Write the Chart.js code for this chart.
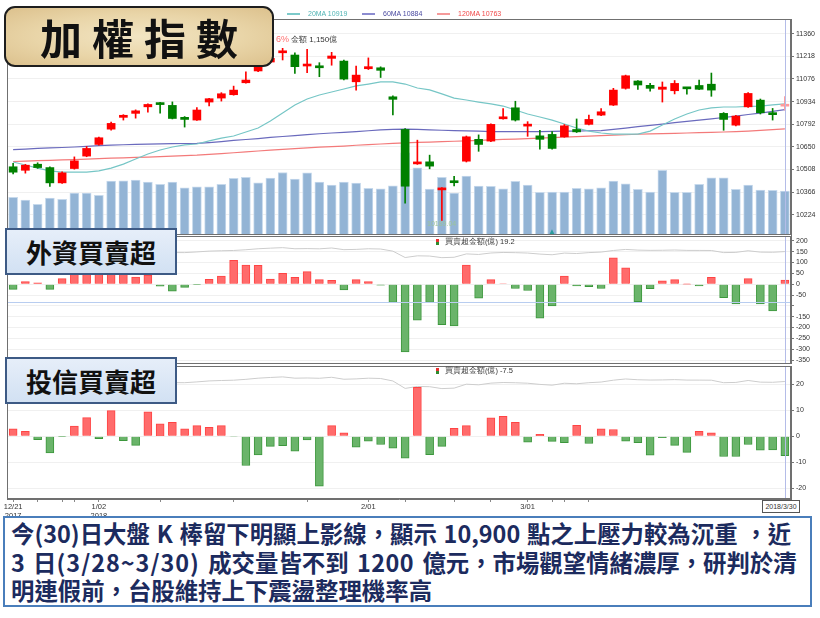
<!DOCTYPE html>
<html>
<head>
<meta charset="utf-8">
<script src="https://cdn.jsdelivr.net/npm/chart.js@4.4.1/dist/chart.umd.min.js"></script>
<style>
body { margin: 0; width: 820px; height: 618px; background: #fff; position: relative; overflow: hidden; font-family: "Liberation Sans", Arial, sans-serif; }
canvas { position: absolute; left: 0; }
.abs { position: absolute; white-space: nowrap; }
.dash { position: absolute; height: 2px; width: 13px; }
.small { font-size: 7px; line-height: 10px; }
#title { position: absolute; left: 4px; top: 6px; width: 270px; height: 61px; box-sizing: border-box; border: 2px solid #1e1e1e; border-radius: 11px;
  background: radial-gradient(ellipse at 50% 50%, #f2e5c3 0%, #e9d5a8 55%, #dcc18d 100%);
  font: 700 42px "Noto Sans CJK TC", sans-serif; letter-spacing: 10px; line-height: 57px; padding-left: 34px; color: #111; }
.tag { position: absolute; left: 5px; width: 172px; height: 47px; box-sizing: border-box; border: 2px solid #3d5a85;
  background: linear-gradient(#e6eef9, #d2e1f3); font: 700 26px "Noto Sans CJK TC", sans-serif; text-align: center; line-height: 44px; color: #111; }
.lgicon { position: absolute; width: 3px; height: 6px; background: linear-gradient(#e83030 50%, #2e8b2e 50%); }
#dateBox { position: absolute; left: 762px; top: 500px; width: 38px; height: 13px; box-sizing: border-box; border: 1px solid #555; background: #fff;
  font-size: 7px; line-height: 11px; text-align: center; color: #333; }
#note { position: absolute; left: 3px; top: 516px; width: 809px; height: 91px; box-sizing: border-box; border: 2px solid #4a7ebb; background: #fff;
  font: 700 23.4px "Noto Sans CJK TC", sans-serif; color: #1c2b5e; line-height: 28.5px; padding: 1px 0 0 6px; white-space: nowrap; }
</style>
</head>
<body>
<canvas id="priceChart" width="820" height="242" style="top:0"></canvas>
<canvas id="foreignChart" width="820" height="140" style="top:230px"></canvas>
<canvas id="trustChart" width="820" height="160" style="top:360px"></canvas>

<!-- top legend -->
<div class="dash" style="left:287px;top:13px;background:#7ccaca"></div>
<div class="abs small" style="left:308px;top:9px;color:#4fb3b3">20MA 10919</div>
<div class="dash" style="left:362px;top:13px;background:#8c8cd0"></div>
<div class="abs small" style="left:383px;top:9px;color:#4a4aa0">60MA 10884</div>
<div class="dash" style="left:437px;top:13px;background:#f59a9a"></div>
<div class="abs small" style="left:458px;top:9px;color:#f04848">120MA 10763</div>
<div class="abs" style="left:276px;top:34px;font-size:9px;color:#ff6f6f">6%</div>
<div class="abs" style="left:291px;top:34px;font-size:8px;color:#333">金額 1,150億</div>
<div class="abs small" style="left:427px;top:219px;color:#9cc39c">10189.04</div>
<div class="abs" style="left:548px;top:227px;font-size:8px;color:#2a9d9d">▲</div>

<div id="title">加權指數</div>
<div class="tag" style="top:228px">外資買賣超</div>
<div class="tag" style="top:357px">投信買賣超</div>

<div class="lgicon" style="left:436px;top:239px"></div>
<div class="abs" style="left:445px;top:237px;font-size:7.5px;color:#333">買賣超金額(億) 19.2</div>
<div class="lgicon" style="left:436px;top:368px"></div>
<div class="abs" style="left:445px;top:366px;font-size:7.5px;color:#333">買賣超金額(億) -7.5</div>

<div id="dateBox">2018/3/30</div>

<div id="note"><span style="word-spacing:1.5px">今(30)日大盤 K 棒留下明顯上影線，顯示 10,900 點之上壓力較為沉重 ，近</span><br><span style="word-spacing:3px">3 日<span style="letter-spacing:1px">(3/28~3/30)</span> 成交量皆不到 <span style="letter-spacing:0.5px">1200</span> 億元，市場觀望情緒濃厚，研判於清</span><br>明連假前，台股維持上下震盪整理機率高</div>

<script>
// trading days 2017/12/21 ~ 2018/3/30
const DATES = ['12/21','12/22','12/25','12/26','12/27','12/28','12/29',
  '1/02','1/03','1/04','1/05','1/08','1/09','1/10','1/11','1/12','1/15','1/16','1/17','1/18','1/19','1/22','1/23','1/24','1/25','1/26','1/29','1/30','1/31',
  '2/01','2/02','2/05','2/06','2/07','2/08','2/09','2/12','2/21','2/22','2/23','2/26','2/27',
  '3/01','3/02','3/05','3/06','3/07','3/08','3/09','3/12','3/13','3/14','3/15','3/16','3/19','3/20','3/21','3/22','3/23','3/26','3/27','3/28','3/29','3/30'];

const OPEN  = [10525,10503,10541,10520,10424,10514,10592,10665,10761,10835,10860,10901,10920,10910,10835,10818,10931,10956,10977,11052,11126,11182,11240,11226,11157,11150,11205,11188,11058,11140,11146,10964,10759,10543,10556,10380,10428,10560,10697,10686,10826,10895,10780,10719,10728,10713,10759,10791,10849,10912,11017,11063,11036,11011,11002,11018,11035,11043,10860,10786,10901,10943,10856,10905];
const HIGH  = [10547,10540,10550,10525,10494,10587,10652,10712,10805,10852,10882,10920,10930,10932,10840,10896,10955,10990,11031,11120,11176,11225,11268,11240,11262,11178,11243,11195,11157,11208,11152,10970,10765,10692,10598,10395,10465,10718,10725,10795,10890,10936,10808,10754,10745,10790,10825,10850,10890,11017,11100,11066,11048,11057,11066,11022,11069,11113,10865,10848,10990,10950,10891,10966];
const LOW   = [10480,10485,10515,10402,10420,10510,10588,10660,10755,10818,10830,10868,10862,10825,10774,10815,10906,10937,10974,11050,11122,11178,11195,11110,11115,11090,11162,11070,11005,11135,11085,10850,10296,10540,10512,10189,10405,10555,10622,10683,10823,10812,10716,10635,10636,10710,10740,10788,10846,10909,11012,11010,11000,10931,10982,10980,11008,10967,10754,10782,10898,10856,10818,10880];
const CLOSE = [10491,10535,10520,10424,10487,10562,10640,10707,10797,10848,10876,10916,10915,10828,10822,10881,10952,10983,11006,11069,11153,11205,11248,11153,11168,11146,11220,11075,11100,11153,11130,10948,10403,10548,10529,10390,10425,10713,10665,10791,10835,10818,10785,10697,10640,10782,10744,10822,10870,11006,11096,11038,11017,11025,11048,11014,11011,11006,10822,10843,10985,10864,10852,10909];

// turnover (億)
const VOLUME = [984,914,801,966,932,1096,1096,1036,1409,1417,1436,1383,1323,1383,1235,1261,1261,1323,1480,1506,1365,1488,1636,1462,1626,1383,1305,1383,1357,1219,1208,1287,2150,1757,1201,1506,1096,1540,1279,1271,1208,1402,1305,1114,1122,1122,1219,1208,1235,1409,1339,1193,1122,1689,1114,1114,1323,1496,1496,1193,1305,1175,1167,1150];

const MA20 = [10555,10536,10517,10499,10492,10492,10492,10499,10517,10542,10574,10605,10630,10649,10662,10668,10687,10705,10718,10743,10768,10812,10862,10913,10950,10975,10994,11013,11032,11044,11057,11057,11044,11019,11007,10982,10956,10944,10931,10919,10906,10881,10856,10837,10818,10793,10768,10749,10737,10730,10730,10730,10749,10787,10825,10856,10881,10894,10900,10900,10904,10906,10913,10919];
const MA60 = [10632,10636,10640,10643,10646,10649,10653,10658,10661,10663,10665,10667,10669,10670,10671,10672,10677,10683,10690,10696,10702,10709,10715,10721,10727,10732,10737,10741,10746,10751,10756,10759,10761,10759,10756,10754,10752,10750,10748,10746,10746,10745,10745,10746,10747,10748,10749,10751,10752,10760,10768,10777,10785,10793,10802,10810,10818,10826,10834,10843,10853,10862,10872,10884];
const MA120 = [10558,10560,10563,10565,10568,10570,10573,10576,10579,10581,10584,10586,10589,10592,10595,10598,10603,10608,10613,10618,10624,10629,10634,10639,10643,10648,10651,10655,10660,10664,10668,10672,10675,10678,10680,10683,10685,10688,10691,10694,10697,10699,10702,10705,10708,10711,10714,10717,10720,10723,10726,10729,10731,10733,10735,10737,10739,10741,10743,10746,10749,10753,10758,10763];

// 外資買賣超 (億)
const FOREIGN = [-24,12,6,-24,26,50,65,80,60,45,33,42,-9,-32,-15,-2,23,37,110,88,87,24,50,32,58,21,18,-27,21,12,-5,-84,-312,-166,-84,-187,-192,88,-65,21,2,-20,-29,-157,-100,37,-8,-12,-20,122,76,-81,-21,15,21,0.5,-8,32,-62,-91,26,-91,-123,19.2];
// 投信買賣超 (億)
const TRUST = [2.9,1.9,-1.3,-6.4,-0.1,3.9,7.2,-0.9,9.9,-1.7,-3.5,9.4,4.8,5.4,2.9,4.1,3.4,4.1,-0.2,-11.3,-7.2,-3.9,-3.6,-5.8,-1.4,-19.3,4.1,1.3,-4.2,-1.9,-3.2,-4.6,-8.5,18.9,-7.1,-3.9,3.0,4.1,0,7.1,7.7,5.4,-2.3,0.7,-2.0,-2.5,4.2,-2.8,2.9,2.6,-1.9,-2.5,-7.3,-0.6,-3.5,-6.2,1.9,1.3,-7.8,-7.8,-3.2,-5.4,-5.3,-7.5];

const PRICE_TICKS = [11360,11218,11076,10934,10792,10650,10508,10366,10224];
const FOREIGN_TICKS = [200,150,100,50,0,-50,-100,-150,-200,-250,-300,-350];
const TRUST_TICKS = [20,10,0,-10,-20];
const X_TICK_LABELS = { '12/21': ['12/21','2017'], '1/02': ['1/02','2018'], '2/01': '2/01', '3/01': '3/01' };
const X_TICK_MARKS = [0,2,4,5,7,12,18,24,29,32,36,39,42,44,45,47];

const RED = '#ff0000', GREEN = '#008000', LAST = '#ff9a9a';
Chart.defaults.font.family = '"Liberation Sans", Arial, sans-serif';
Chart.defaults.animation = false;

const candleColors = CLOSE.map((c, i) => i === CLOSE.length - 1 ? LAST : (c >= OPEN[i] ? RED : GREEN));
const barFill = arr => arr.map(v => v >= 0 ? '#ff6b6b' : '#6ab46a');
const barLine = arr => arr.map(v => v >= 0 ? '#ff4343' : '#3c973c');

function rightAxis(min, max, ticks, hidden) {
  return {
    position: 'right', min: min, max: max,
    afterFit: s => { s.width = 29; },
    afterBuildTicks: s => { s.ticks = ticks.map(v => ({ value: v })); },
    border: { color: '#707070' },
    grid: { color: '#f0f0f0', tickColor: '#777', tickLength: 3 },
    ticks: { font: { size: 7 }, color: '#333', padding: 2, callback: v => v === hidden ? '' : v }
  };
}

const framePlugin = {
  id: 'frame',
  afterDraw(chart) {
    const { ctx, chartArea: a } = chart;
    ctx.save();
    ctx.strokeStyle = '#707070';
    ctx.lineWidth = 1;
    ctx.strokeRect(Math.round(a.left) + 0.5, Math.round(a.top) + 0.5, Math.round(a.right - a.left) - 1, Math.round(a.bottom - a.top) - 1);
    ctx.restore();
  }
};

function crossPlugin(yValue) {
  return {
    id: 'cross',
    afterDatasetsDraw(chart) {
      const { ctx, chartArea: a, scales } = chart;
      const x = Math.round(scales.x.getPixelForValue(DATES.length - 1)) + 0.5;
      ctx.save();
      ctx.lineWidth = 1;
      ctx.strokeStyle = '#b4bce8';
      ctx.beginPath(); ctx.moveTo(x, a.top); ctx.lineTo(x, a.bottom); ctx.stroke();
      if (yValue !== undefined) {
        const y = Math.round(scales.y.getPixelForValue(yValue)) + 0.5;
        ctx.strokeStyle = '#b8cdf0';
        ctx.beginPath(); ctx.moveTo(a.left, y); ctx.lineTo(a.right, y); ctx.stroke();
      }
      ctx.restore();
    }
  };
}

const hiddenX = { type: 'category', offset: true, display: false };
const noPlugins = { legend: { display: false }, tooltip: { enabled: false } };

// price + volume
new Chart(document.getElementById('priceChart'), {
  type: 'bar',
  data: {
    labels: DATES,
    datasets: [
      { data: OPEN.map((o, i) => [o, CLOSE[i]]), backgroundColor: candleColors, barThickness: 8, minBarLength: 2, grouped: false, order: 1 },
      { data: LOW.map((l, i) => [l, HIGH[i]]), backgroundColor: candleColors, barThickness: 1, grouped: false, order: 2 },
      { type: 'line', data: MA20, borderColor: '#76c6c6', borderWidth: 1.2, pointRadius: 0, order: 5 },
      { type: 'line', data: MA60, borderColor: '#6a6abd', borderWidth: 1.2, pointRadius: 0, order: 5 },
      { type: 'line', data: MA120, borderColor: '#f37a7a', borderWidth: 1.2, pointRadius: 0, order: 5 },
      { data: VOLUME, yAxisID: 'yv', backgroundColor: '#93b4d5', borderColor: '#c6d9ec', borderWidth: 1, barThickness: 9, grouped: false, order: 10 }
    ]
  },
  options: {
    responsive: false, devicePixelRatio: 1,
    layout: { padding: { left: 7, top: 19, right: 0, bottom: 7 } },
    plugins: noPlugins,
    scales: {
      x: hiddenX,
      y: rightAxis(10097, 11452, PRICE_TICKS),
      yv: { display: false, min: 0, max: 5650 }
    }
  },
  plugins: [framePlugin, crossPlugin()]
});

// foreign investors
new Chart(document.getElementById('foreignChart'), {
  type: 'bar',
  data: {
    labels: DATES,
    datasets: [
      { data: FOREIGN, backgroundColor: barFill(FOREIGN), borderColor: barLine(FOREIGN), borderWidth: 1, barThickness: 8, order: 1 },
      { type: 'line', data: CLOSE, yAxisID: 'yg', borderColor: '#cdcdcd', borderWidth: 1, pointRadius: 0, order: 5 }
    ]
  },
  options: {
    responsive: false, devicePixelRatio: 1,
    layout: { padding: { left: 7, top: 6, right: 0, bottom: 6 } },
    plugins: noPlugins,
    scales: {
      x: hiddenX,
      y: rightAxis(-367.4, 221.5, FOREIGN_TICKS, -100),
      yg: { display: false, min: 1305, max: 12228 }
    }
  },
  plugins: [framePlugin, crossPlugin(-81)]
});

// investment trust
new Chart(document.getElementById('trustChart'), {
  type: 'bar',
  data: {
    labels: DATES,
    datasets: [
      { data: TRUST, backgroundColor: barFill(TRUST), borderColor: barLine(TRUST), borderWidth: 1, barThickness: 8, order: 1 },
      { type: 'line', data: CLOSE, yAxisID: 'yg', borderColor: '#cdcdcd', borderWidth: 1, pointRadius: 0, order: 5 }
    ]
  },
  options: {
    responsive: false, devicePixelRatio: 1,
    layout: { padding: { left: 7, top: 6, right: 0, bottom: 0 } },
    plugins: noPlugins,
    scales: {
      x: {
        type: 'category', offset: true,
        afterFit: s => { s.height = 21; },
        border: { color: '#707070' },
        grid: { offset: false, drawOnChartArea: false, tickLength: 3, color: c => X_TICK_MARKS.includes(c.index) ? '#888' : 'rgba(0,0,0,0)' },
        ticks: { autoSkip: false, maxRotation: 0, padding: 0, font: { size: 7.5 }, color: '#333',
          callback: (v, i) => X_TICK_LABELS[DATES[i]] || '' }
      },
      y: rightAxis(-24.2, 27.0, TRUST_TICKS),
      yg: { display: false, min: 2300, max: 12031 }
    }
  },
  plugins: [framePlugin, crossPlugin()]
});
</script>
</body>
</html>
